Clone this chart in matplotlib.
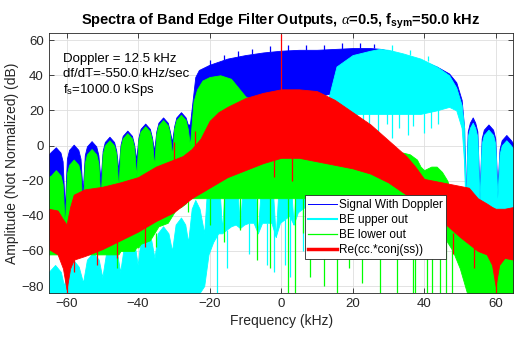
import matplotlib.pyplot as plt
from matplotlib.lines import Line2D

plt.rcParams['font.family'] = ['Liberation Sans', 'DejaVu Sans']
plt.rcParams['mathtext.fontset'] = 'custom'
plt.rcParams['mathtext.rm'] = 'Liberation Sans'
plt.rcParams['mathtext.bf'] = 'Liberation Sans:bold'
plt.rcParams['mathtext.it'] = 'Liberation Serif:italic'

# spectrum traces as (freq kHz, upper edge dB, lower edge dB)
sig_pts = [
    (-65, -5, -45), (-64.3, -3.5, -45), (-63, -1, -45), (-61.7, -4, -45), (-61.1, -9, -45),
    (-60.5, -36, -45), (-59.9, -7.5, -45), (-59.3, -2.5, -45), (-58, 0.5, -45), (-56.7, -2.5, -45),
    (-56.1, -7.5, -45), (-55.5, -27, -45), (-54.9, -5.5, -45), (-54.3, -0.5, -45), (-53, 2.5, -45),
    (-51.7, -0.5, -45), (-51.1, -5.5, -45), (-50.5, -20, -45), (-49.9, -3, -45), (-49.3, 2, -45),
    (-48, 5, -45), (-46.7, 2, -45), (-46.1, -3, -45), (-45.5, -14, -45), (-44.9, 0.5, -45),
    (-44.3, 5.5, -45), (-43, 8.5, -45), (-41.7, 5.5, -45), (-41.1, 0.5, -44), (-40.5, -8, -43),
    (-39.9, 4.5, -42), (-39.3, 9.5, -41), (-38, 12.5, -40), (-36.7, 9.5, -39), (-36.1, 4.5, -38),
    (-35.5, -3, -37), (-34.9, 8, -36), (-34.3, 13, -35), (-33, 16, -34), (-31.7, 13, -33),
    (-31.1, 8, -32), (-30.5, 2, -31), (-29.9, 11, -30), (-29.3, 16, -29), (-28, 19, -28),
    (-26.7, 16, -26), (-26.1, 12, -25), (-25.5, 12, -20),
    (-24.5, 30, 15), (-24, 39, 20), (-23, 43, 22), (-20, 46, 25), (-15, 49.5, 26), (-10, 51.5, 26),
    (-5, 53, 27), (0, 54, 28), (5, 54.5, 28), (10, 54.5, 28), (15, 55, 30), (20, 55.5, 30),
    (25, 55.5, 30), (28, 55, 30), (30, 54, 30), (34, 51.5, 30), (39, 48.5, 30), (43.5, 45, 30),
    (47, 41, 28), (49, 36, 22), (50.5, 26, 15), (51.2, 10, 0), (51.6, -32, -35),
    (52.2, 8, -35), (52.8, 13, -35), (53.6, 16, -35), (54.3, 13, -35), (54.9, 8, -35),
    (55.5, -28, -35), (56.1, 4, -35), (56.7, 9, -35), (58, 12, -35), (59.3, 9, -35),
    (59.9, 4, -35), (60.5, -25, -35), (61.1, -2, -35), (61.7, 3, -35), (63, 6, -35),
    (64.3, 3, -35), (65, 1, -35),
]
beu_pts = [
    (-65, -72, -84), (-63.2, -68, -84), (-61.6, -72, -84), (-60.7, -80, -84), (-59.8, -70, -84),
    (-58.2, -65, -84), (-56.6, -69, -84), (-55.4, -78, -84), (-54.3, -65, -84), (-52.6, -61, -84),
    (-51, -65, -84), (-50, -75, -84), (-49, -62, -84), (-47.4, -57.5, -84), (-45.9, -61, -84),
    (-45, -72, -84), (-44, -58, -84), (-42.4, -53.6, -84), (-40.9, -57, -84), (-40.1, -68, -84),
    (-39.3, -54, -84), (-37.8, -50, -84), (-36.3, -54, -84), (-35.4, -64, -84), (-34.5, -50, -84),
    (-33, -46, -84), (-31.5, -50, -84), (-30.5, -60, -84), (-29.5, -45, -84), (-28, -41, -84),
    (-26.8, -45, -84), (-26, -55, -84), (-25, -36, -84), (-24, -31, -84), (-22.8, -36, -84),
    (-21.5, -50, -80), (-20.3, -12, -62), (-19, -8, -55), (-17.6, -12, -50), (-16.5, -48, -50),
    (-15.3, -9, -48), (-14, -5, -46), (-12.7, -9, -45), (-11.5, -47, -47), (-10.3, -10, -45),
    (-9, -6, -44), (-7.7, -10, -44), (-6.5, -50, -50), (-5.3, -12, -44), (-4, -8, -44),
    (-2.7, -12, -44), (-1.5, -52, -52), (-0.3, -9, -44), (1, -5, -42), (2.3, -9, -40),
    (3.5, -45, -45), (4.7, -4, -38), (6, 0, -36), (7.3, -4, -34), (8.5, -35, -35),
    (9.7, 6, -28), (11, 12, -20), (13, 25, 15), (15.5, 45, 18), (20, 51.5, 18),
    (25, 54, 18), (27.5, 55, 18), (30, 54.5, 18), (34, 52.5, 18), (39, 49.5, 18),
    (43.5, 45, 20), (47, 40, 22), (49, 33, 20), (50.5, 23, 10), (51.2, 10, -10),
    (51.6, -35, -40), (52.2, 5, -40), (52.8, 10, -40), (53.6, 13, -40), (54.3, 10, -40),
    (54.9, 5, -40), (55.5, -32, -40), (56.1, 1, -40), (56.7, 6, -40), (58, 9, -40),
    (59.3, 6, -40), (59.9, 1, -40), (60.5, -30, -40), (61.1, -5, -40), (61.7, 0, -40),
    (63, 3, -40), (64.3, 0, -40), (65, -2, -40),
]
bel_pts = [
    (-65, -18, -62), (-64.3, -17, -62), (-63, -14, -62), (-61.7, -17, -62), (-61.1, -22, -62),
    (-60.5, -46, -62), (-59.9, -16, -62), (-59.3, -11, -62), (-58, -8, -62), (-56.7, -11, -62),
    (-56.1, -16, -62), (-55.5, -38, -62), (-54.9, -10, -62), (-54.3, -5, -62), (-53, -2, -62),
    (-51.7, -5, -62), (-51.1, -10, -62), (-50.5, -32, -62), (-49.9, -5, -62), (-49.3, 0, -62),
    (-48, 3, -62), (-46.7, 0, -62), (-46.1, -5, -62), (-45.5, -25, -62), (-44.9, -1, -60),
    (-44.3, 4, -60), (-43, 7, -60), (-41.7, 4, -60), (-41.1, -1, -60), (-40.5, -18, -58),
    (-39.9, 3, -58), (-39.3, 8, -56), (-38, 11, -55), (-36.7, 8, -54), (-36.1, 3, -52),
    (-35.5, -12, -50), (-34.9, 6.5, -48), (-34.3, 11.5, -46), (-33, 14.5, -45), (-31.7, 11.5, -44),
    (-31.1, 6.5, -42), (-30.5, -6, -40), (-29.9, 9.5, -38), (-29.3, 14.5, -36), (-28, 17.5, -35),
    (-26.7, 14.5, -33), (-26.1, 9.5, -31), (-25.5, 0, -30),
    (-24.5, 25, -30), (-23.5, 32, -30), (-22, 37, -30), (-20, 39, -30), (-17, 40, -30),
    (-14, 38, -30), (-12, 33, -30), (-10, 28, -30), (-5, 22, -30), (0, 20, -30), (5, 18, -30),
    (10, 15, -30), (15, 10, -30), (20, 5, -30), (25, 0, -31), (30, -3, -32), (32, -8, -33),
    (33, -5, -34), (34, -4, -35), (36, -5, -36), (38, -8, -38), (39, -12, -40), (40, -14, -42),
    (42, -12, -44), (43.5, -12, -46), (45, -15, -50), (46.5, -20, -55), (48, -30, -60),
    (50, -40, -70), (52, -45, -84), (55, -42, -84), (58, -46, -84), (60, -44, -84),
    (62, -48, -84), (65, -55, -84),
]
prod_pts = [
    (-65, -36, -59), (-62.5, -37, -62), (-61, -42, -70), (-60, -45, -82), (-59, -35, -70),
    (-58, -28, -65), (-55, -25, -63), (-50, -23.5, -59), (-45, -21, -54), (-40, -18, -49),
    (-35, -12, -43), (-30, -8, -38), (-27.5, -6, -34), (-25, -2, -30), (-22.5, 4, -27),
    (-20, 14, -24), (-17.5, 19, -21), (-15, 22, -18), (-10, 27, -14), (-5, 30, -10),
    (0, 32, -7), (5, 32, -7), (10, 31, -9), (15, 26, -11), (20, 19, -13), (25, 12, -16),
    (30, 3, -21), (35, -6, -28), (37.5, -12, -32), (40, -19, -36), (45, -21, -43),
    (50, -23, -52), (52.5, -24, -56), (55, -30, -60), (57.5, -33, -62), (59, -35, -68),
    (60, -36, -80), (61, -36, -68), (62.5, -36, -64), (65, -35, -65),
]

# narrow spikes in the traces: (freq, from dB, to dB)
sig_spk = [(-20, 45, 48.5), (-16, 48.5, 51.5), (-12, 50.5, 54), (-8, 52, 55), (-3, 53, 56.5),
           (2, 54, 57), (7, 54.5, 57.5), (12, 54.5, 57), (17, 55, 58.5), (22, 55.5, 58.5),
           (26, 55.5, 58), (14, 30, 24), (16, 30, 22), (-22, 22, 12)]
beu_spk = [(16.5, 20, 8), (18, 20, 6), (21, 20, 10), (23, 20, 5), (24.5, 20, 9), (27, 20, 7),
           (29.5, 20, 12), (31, 20, 4), (33, 20, 10), (35.5, 20, 6), (37, 20, 11), (40, 20, 7),
           (42, 20, 10), (44, 21, 12), (31, 54, 57), (36, 51.5, 54.5), (41, 48, 51),
           (-18, -50, -84), (-15, -48, -70), (-9, -44, -62), (-4, -44, -68), (-2, -44, -72),
           (1, -42, -68), (2.5, -40, -75), (6, -36, -60), (11, -20, -45)]
bel_spk = [(-11.5, -30, -48), (-6.7, -30, -65), (-3, -30, -70), (2, -30, -84), (4, -30, -84),
           (8, -30, -75), (12, -30, -80), (15.7, -30, -84), (19, -30, -70), (22.5, -31, -78),
           (27.7, -31, -84), (32.4, -33, -84), (37, -37, -84), (37.5, -38, -84), (40.8, -43, -84),
           (42.2, -44, -84), (44.5, -48, -84), (46.2, -54, -84), (47.8, -59, -84),
           (-46, -62, -70), (-35, -50, -58), (-26, -30, -38), (-20, -30, -45), (-16, -30, -55),
           (6, -30, -50), (10, -30, -60), (25, -31, -55), (30, -32, -62)]
prod_spk = [(0, 30, 63.5), (-60, -70, -84), (60, -75, -84), (-57.8, -60, -72), (-51.5, -55, -68),
            (-46, -50, -64), (-38, -45, -58), (-2, -7, -18), (3, -7, -20), (48, -50, -62),
            (54, -58, -70), (-30, -8, 2), (-24, -2, 8)]

fig = plt.figure(figsize=(5.14, 3.38), dpi=100)
ax = fig.add_axes([0.0947, 0.133, 0.9043, 0.769])

series = [
    (sig_pts, sig_spk, '#0000ff'),
    (beu_pts, beu_spk, '#00ffff'),
    (bel_pts, bel_spk, '#00ff00'),
    (prod_pts, prod_spk, '#ff0000'),
]
for i, (pts, spk, color) in enumerate(series):
    f = [p[0] for p in pts]
    hi = [p[1] for p in pts]
    lo = [p[2] for p in pts]
    ax.fill_between(f, lo, hi, facecolor=color, edgecolor=color, linewidth=0.6,
                    zorder=2 * i + 1)
    ax.vlines([s[0] for s in spk], [s[1] for s in spk], [s[2] for s in spk],
              colors=color, linewidth=0.9, zorder=2 * i + 2)

ax.set_xlim(-65, 65)
ax.set_ylim(-84, 64)
ax.set_xticks(range(-60, 61, 20))
ax.set_yticks(range(-80, 61, 20))
ax.grid(True, color='#dedede', linewidth=0.6)
ax.set_axisbelow(True)
ax.tick_params(direction='in', top=True, right=True, length=3.5, labelsize=9.5,
               colors='#262626', width=0.6)
for sp in ax.spines.values():
    sp.set_color('#262626')
    sp.set_linewidth(0.6)
    sp.set_zorder(10)

ax.set_xlabel('Frequency (kHz)', fontsize=10, color='#262626', labelpad=3)
ax.set_ylabel('Amplitude (Not Normalized) (dB)', fontsize=10, color='#262626', labelpad=2)
ax.set_title(r'Spectra of Band Edge Filter Outputs, $\alpha$=0.5, f$_{\mathbf{sym}}$=50.0 kHz',
             fontsize=10.5, fontweight='bold', pad=6)

ax.text(-61, 47.7, 'Doppler = 12.5 kHz', fontsize=9.5, zorder=12)
ax.text(-61, 38.8, 'df/dT=-550.0 kHz/sec', fontsize=9.5, zorder=12)
ax.text(-61, 29.7, r'f$_{\rm s}$=1000.0 kSps', fontsize=9.5, zorder=12)

handles = [Line2D([], [], color='#0000ff', lw=0.7),
           Line2D([], [], color='#00ffff', lw=1.5),
           Line2D([], [], color='#00ff00', lw=0.9),
           Line2D([], [], color='#ff0000', lw=2.5)]
labels = ['Signal With Doppler', 'BE upper out', 'BE lower out', 'Re(cc.*conj(ss))']
leg = ax.legend(handles, labels, loc='lower left', bbox_to_anchor=(0.551, 0.13),
                fontsize=8.5, handlelength=2.4, handletextpad=0.2, labelspacing=0.25,
                borderpad=0.3, borderaxespad=0, fancybox=False, framealpha=1)
leg.get_frame().set_edgecolor('#262626')
leg.get_frame().set_linewidth(0.6)
leg.set_zorder(20)

fig.savefig('out.png', dpi=100)
